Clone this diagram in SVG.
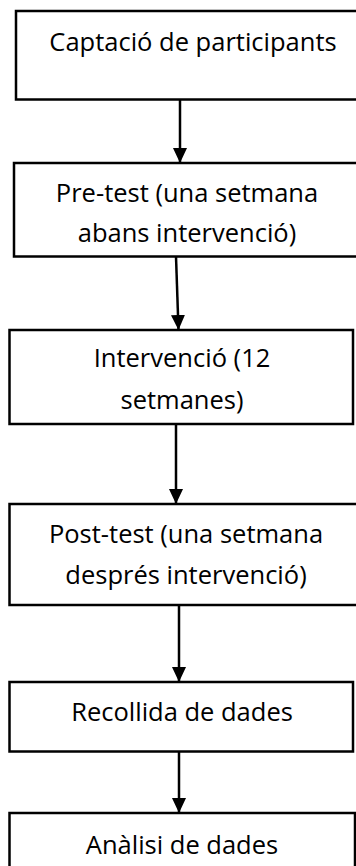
<svg xmlns="http://www.w3.org/2000/svg" width="356" height="866" viewBox="0 0 356 866">
<defs>
<style>
.box{fill:#fff;stroke:#000;stroke-width:2.5}
.lbl{font-family:"Open Sans","Noto Sans",sans-serif;font-size:25.5px;fill:#000;text-anchor:middle}
.con{stroke:#000;stroke-width:2.5;fill:none}
</style>
<marker id="ah" viewBox="0 0 15 14" refX="15" refY="7" markerWidth="15" markerHeight="14" markerUnits="userSpaceOnUse" orient="auto">
<path d="M0,0 L15,7 L0,14 Z" fill="#000"/>
</marker>
</defs>
<rect width="356" height="866" fill="#fff"/>
<g id="n1"><rect class="box" x="16" y="11" width="360" height="88.5"/><text class="lbl" x="193" y="51">Captació de participants</text></g>
<g id="n2"><rect class="box" x="14" y="163" width="355" height="93.5"/><text class="lbl" x="187" y="202">Pre-test (una setmana</text><text class="lbl" x="187" y="242">abans intervenció)</text></g>
<g id="n3"><rect class="box" x="9.5" y="330" width="343.5" height="94"/><text class="lbl" x="182" y="367">Intervenció (12</text><text class="lbl" x="182" y="409">setmanes)</text></g>
<g id="n4"><rect class="box" x="9.5" y="504" width="360" height="101"/><text class="lbl" x="186" y="543">Post-test (una setmana</text><text class="lbl" x="186" y="584">després intervenció)</text></g>
<g id="n5"><rect class="box" x="9.5" y="682" width="343.5" height="69.5"/><text class="lbl" x="182" y="721">Recollida de dades</text></g>
<g id="n6"><rect class="box" x="9.5" y="813" width="345.5" height="70"/><text class="lbl" x="182" y="854">Anàlisi de dades</text></g>
<g id="connectors">
<line class="con" x1="180" y1="99.5" x2="180" y2="163" marker-end="url(#ah)"/>
<line class="con" x1="176" y1="256.5" x2="178.5" y2="330" marker-end="url(#ah)"/>
<line class="con" x1="176" y1="424" x2="176" y2="504" marker-end="url(#ah)"/>
<line class="con" x1="179" y1="605" x2="179" y2="682" marker-end="url(#ah)"/>
<line class="con" x1="179" y1="751.5" x2="179" y2="813" marker-end="url(#ah)"/>
</g>
</svg>
